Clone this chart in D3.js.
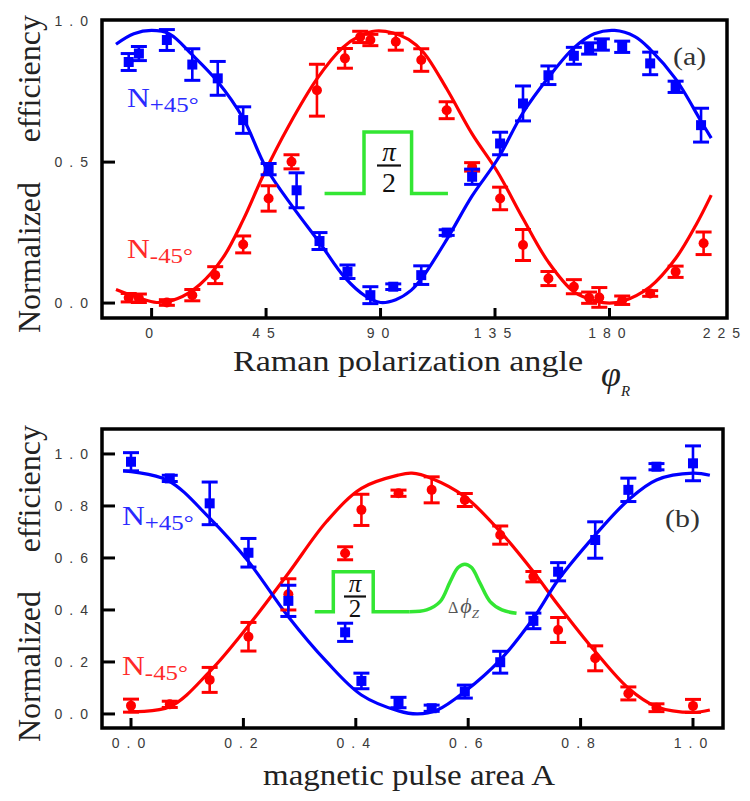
<!DOCTYPE html>
<html>
<head>
<meta charset="utf-8">
<script src="https://cdn.jsdelivr.net/npm/d3@7"></script>
<style>
  body { margin: 0; background: #fff; }
  svg { display: block; }
</style>
</head>
<body>
<svg width="750" height="801"></svg>
<script>
// ---- panel (a): efficiency vs Raman polarization angle ----
const angleBlueA = [-9, -5, 6, 16, 26, 36, 46, 57, 66, 77, 86, 95, 106, 116, 126, 137, 146, 156, 166, 172, 177, 185, 196, 206, 216];
const effBlueA   = [0.855, 0.885, 0.933, 0.846, 0.797, 0.649, 0.475, 0.40, 0.22, 0.111, 0.028, 0.058, 0.099, 0.25, 0.448, 0.566, 0.708, 0.808, 0.877, 0.903, 0.917, 0.909, 0.85, 0.767, 0.631];
const errBlueA   = [0.03, 0.025, 0.037, 0.056, 0.06, 0.047, 0.02, 0.062, 0.03, 0.024, 0.03, 0.01, 0.033, 0.01, 0.027, 0.04, 0.062, 0.033, 0.03, 0.02, 0.02, 0.02, 0.04, 0.02, 0.06];

const angleRedA = [-9, -5, 6, 16, 25, 36, 46, 55, 65, 76, 82, 86, 96, 106, 116, 126, 137, 146, 156, 166, 172, 176, 185, 196, 206, 217];
const effRedA   = [0.019, 0.017, 0.002, 0.028, 0.099, 0.208, 0.371, 0.501, 0.755, 0.868, 0.944, 0.933, 0.927, 0.862, 0.684, 0.483, 0.371, 0.206, 0.087, 0.058, 0.019, 0.02, 0.01, 0.034, 0.111, 0.212];
const errRedA   = [0.015, 0.015, 0.01, 0.02, 0.03, 0.03, 0.045, 0.025, 0.092, 0.035, 0.02, 0.02, 0.03, 0.04, 0.03, 0.015, 0.04, 0.055, 0.025, 0.025, 0.02, 0.035, 0.015, 0.01, 0.02, 0.04];

// fitted curves
const fitAngleBlueA = [-14, -7, 0, 7, 16, 26, 36, 45, 56, 66, 76, 84, 90, 96, 102, 106, 116, 126, 136, 146, 156, 166, 174, 182, 190, 196, 206, 216, 220];
const fitBlueA      = [0.918, 0.955, 0.967, 0.955, 0.88, 0.785, 0.655, 0.48, 0.335, 0.215, 0.09, 0.025, 0.002, 0.012, 0.045, 0.085, 0.225, 0.38, 0.51, 0.675, 0.8, 0.905, 0.955, 0.967, 0.945, 0.9, 0.795, 0.645, 0.585];
const fitAngleRedA  = [-14, -5, 2, 10, 19, 28, 36, 44, 54, 65, 75, 82, 88, 95, 101, 107, 116, 126, 136, 146, 156, 166, 175, 180, 185, 196, 206, 214, 220];
const fitRedA       = [0.048, 0.018, 0.002, 0.015, 0.066, 0.16, 0.295, 0.455, 0.63, 0.795, 0.905, 0.948, 0.965, 0.958, 0.935, 0.888, 0.76, 0.6, 0.465, 0.3, 0.145, 0.04, 0.006, 0.0, 0.006, 0.058, 0.158, 0.277, 0.383];

const xTicksA = [0, 45, 90, 135, 180, 225];
const xTickLabelsA = ["0", "45", "90", "135", "180", "225"];
const yTicksA = [0, 0.5, 1.0];
const yTickLabelsA = ["0.0", "0.5", "1.0"];

// pi/2 pulse sketch in (a), data coordinates
const pulseAngleA = [68, 83.5, 83.5, 102.2, 102.2, 116.5];
const pulseLevelA = [0.389, 0.389, 0.607, 0.607, 0.389, 0.389];

// ---- panel (b): efficiency vs magnetic pulse area ----
const areaB    = [0, 0.069, 0.14, 0.209, 0.28, 0.381, 0.41, 0.476, 0.535, 0.594, 0.657, 0.716, 0.76, 0.826, 0.885, 0.935, 1.0];
const effBlueB = [0.970, 0.906, 0.81, 0.62, 0.435, 0.314, 0.127, 0.044, 0.022, 0.086, 0.199, 0.358, 0.547, 0.669, 0.862, 0.951, 0.964];
const errBlueB = [0.035, 0.012, 0.082, 0.055, 0.06, 0.035, 0.03, 0.02, 0.012, 0.025, 0.042, 0.03, 0.035, 0.07, 0.045, 0.012, 0.067];
const effRedB  = [0.032, 0.037, 0.131, 0.297, 0.46, 0.618, 0.785, 0.849, 0.862, 0.823, 0.688, 0.528, 0.323, 0.214, 0.079, 0.024, 0.031];
const errRedB  = [0.025, 0.012, 0.048, 0.055, 0.06, 0.025, 0.06, 0.012, 0.05, 0.025, 0.035, 0.02, 0.048, 0.048, 0.025, 0.015, 0.025];

const fitAreaBlueB = [-0.014, 0.064, 0.14, 0.209, 0.28, 0.348, 0.41, 0.476, 0.51, 0.545, 0.594, 0.657, 0.716, 0.76, 0.826, 0.885, 0.935, 1.0, 1.03];
const fitBlueB     = [0.935, 0.9, 0.753, 0.586, 0.374, 0.201, 0.073, 0.012, 0.0, 0.015, 0.086, 0.208, 0.368, 0.515, 0.688, 0.823, 0.9, 0.926, 0.918];
const fitAreaRedB  = [-0.005, 0.069, 0.14, 0.21, 0.28, 0.348, 0.41, 0.476, 0.5, 0.535, 0.594, 0.657, 0.716, 0.76, 0.826, 0.885, 0.935, 1.0, 1.03];
const fitRedB      = [0.009, 0.028, 0.163, 0.342, 0.541, 0.74, 0.868, 0.919, 0.926, 0.906, 0.836, 0.701, 0.547, 0.419, 0.24, 0.099, 0.028, 0.006, 0.015];

const xTicksB = [0, 0.2, 0.4, 0.6, 0.8, 1.0];
const xTickLabelsB = ["0.0", "0.2", "0.4", "0.6", "0.8", "1.0"];
const yTicksB = [0, 0.2, 0.4, 0.6, 0.8, 1.0];
const yTickLabelsB = ["0.0", "0.2", "0.4", "0.6", "0.8", "1.0"];

// pi/2 step + Zeeman phase pulse sketch in (b), data coordinates
const stepAreaB  = [0.327, 0.36, 0.36, 0.431, 0.431, 0.496];
const stepLevelB = [0.393, 0.393, 0.547, 0.547, 0.393, 0.393];
const bumpAreaB  = [0.496, 0.526, 0.55, 0.568, 0.582, 0.594, 0.606, 0.621, 0.639, 0.66, 0.686];
const bumpLevelB = [0.393, 0.40, 0.432, 0.509, 0.563, 0.576, 0.563, 0.503, 0.432, 0.40, 0.387];

const BLUE = "#0000ff", RED = "#ff0000", GREEN = "#33e633";
const SERIF = "'Liberation Serif', 'Times New Roman', serif";
const SANS = "'Liberation Sans', Arial, sans-serif";

const svg = d3.select("svg");

const drawPanel = (o) => {
  const g = svg.append("g");
  const x = d3.scaleLinear().domain(o.xDomain).range([o.left, o.right]);
  const y = d3.scaleLinear().domain(o.yDomain).range([o.bottom, o.top]);
  const smooth = d3.line().x(d => x(d[0])).y(d => y(d[1])).curve(d3.curveCatmullRom.alpha(0.5));
  const straight = d3.line().x(d => x(d[0])).y(d => y(d[1]));

  // fits
  g.append("path").datum(d3.zip(o.fitRedX, o.fitRedY)).attr("d", smooth)
    .attr("fill", "none").attr("stroke", RED).attr("stroke-width", 3.2);
  g.append("path").datum(d3.zip(o.fitBlueX, o.fitBlueY)).attr("d", smooth)
    .attr("fill", "none").attr("stroke", BLUE).attr("stroke-width", 3.2);

  // inset pulses
  o.pulses.forEach(p => {
    g.append("path").datum(d3.zip(p.x, p.y)).attr("d", p.curved ? smooth : straight)
      .attr("fill", "none").attr("stroke", GREEN).attr("stroke-width", 3.5)
      .attr("stroke-linejoin", "miter");
  });

  // error bars + markers
  const series = [
    { x: o.redX, y: o.redY, e: o.redE, color: RED, shape: "circle" },
    { x: o.blueX, y: o.blueY, e: o.blueE, color: BLUE, shape: "square" }
  ];
  series.forEach(s => {
    const pts = s.x.map((v, i) => ({ x: v, y: s.y[i], e: s.e[i] }));
    const eg = g.append("g").attr("stroke", s.color).attr("stroke-width", 2.6);
    eg.selectAll(".bar").data(pts).enter().append("line")
      .attr("x1", d => x(d.x)).attr("x2", d => x(d.x))
      .attr("y1", d => y(d.y - d.e)).attr("y2", d => y(d.y + d.e));
    eg.selectAll(".capT").data(pts).enter().append("line")
      .attr("x1", d => x(d.x) - 8).attr("x2", d => x(d.x) + 8)
      .attr("y1", d => y(d.y + d.e)).attr("y2", d => y(d.y + d.e)).attr("stroke-width", 3);
    eg.selectAll(".capB").data(pts).enter().append("line")
      .attr("x1", d => x(d.x) - 8).attr("x2", d => x(d.x) + 8)
      .attr("y1", d => y(d.y - d.e)).attr("y2", d => y(d.y - d.e)).attr("stroke-width", 3);
    if (s.shape === "circle") {
      g.selectAll(null).data(pts).enter().append("circle")
        .attr("cx", d => x(d.x)).attr("cy", d => y(d.y)).attr("r", 5)
        .attr("fill", s.color);
    } else {
      g.selectAll(null).data(pts).enter().append("rect")
        .attr("x", d => x(d.x) - 5).attr("y", d => y(d.y) - 5)
        .attr("width", 10).attr("height", 10).attr("fill", s.color);
    }
  });

  // frame
  g.append("rect").attr("x", o.left).attr("y", o.top)
    .attr("width", o.right - o.left).attr("height", o.bottom - o.top)
    .attr("fill", "none").attr("stroke", "#000").attr("stroke-width", 3.5);

  // ticks (inward)
  g.selectAll(null).data(o.xTicks.filter(t => x(t) < o.right - 4)).enter().append("line")
    .attr("x1", d => x(d)).attr("x2", d => x(d))
    .attr("y1", o.bottom).attr("y2", o.bottom - 10)
    .attr("stroke", "#000").attr("stroke-width", 3);
  g.selectAll(null).data(o.yTicks.filter(t => y(t) > o.top + 4)).enter().append("line")
    .attr("x1", o.left).attr("x2", o.left + 13)
    .attr("y1", d => y(d)).attr("y2", d => y(d))
    .attr("stroke", "#000").attr("stroke-width", 3);

  // tick labels
  g.selectAll(null).data(o.xTicks).enter().append("text")
    .attr("x", d => x(d) + 1).attr("y", o.xLabelY)
    .attr("text-anchor", "middle")
    .style("font-family", SANS).style("font-size", "14px")
    .style("letter-spacing", "7px").attr("fill", "#3a3a3a")
    .text((d, i) => o.xTickLabels[i]);
  g.selectAll(null).data(o.yTicks).enter().append("text")
    .attr("x", 95).attr("y", d => y(d) + 5)
    .attr("text-anchor", "end")
    .style("font-family", SANS).style("font-size", "14px")
    .style("letter-spacing", "7px").attr("fill", "#3a3a3a")
    .text((d, i) => o.yTickLabels[i]);

  // y title
  const yt = (txt, yy, anchor) => g.append("text")
    .attr("transform", `translate(40,${yy}) rotate(-90)`)
    .attr("text-anchor", anchor)
    .style("font-family", SERIF).style("font-size", "32px").attr("fill", "#222")
    .text(txt);
  yt("Normalized", o.yTitleBottom, "start");
  yt("efficiency", o.yTitleTop, "end");

  // series labels
  const nLabel = (sign, color, lx, ly) => {
    const t = g.append("text")
      .attr("transform", `translate(${lx},${ly}) scale(1.13,1)`)
      .style("font-family", SERIF).attr("fill", color);
    t.append("tspan").style("font-size", "28px").text("N");
    t.append("tspan").attr("dy", 5).style("font-size", "22px").text(sign + "45°");
  };
  nLabel("+", "#2a2aff", o.nPlus[0], o.nPlus[1]);
  nLabel("-", "#ff2a2a", o.nMinus[0], o.nMinus[1]);

  // panel tag
  g.append("text").attr("transform", `translate(${o.tag[0]},${o.tag[1]}) scale(1.15,1)`)
    .style("font-family", SERIF).style("font-size", "26px").attr("fill", "#333")
    .text(o.tagText);

  return { g, x, y };
};

// ---- panel (a) ----
const A = drawPanel({
  left: 102, right: 727, top: 20, bottom: 318,
  xDomain: [-19.5, 226.2], yDomain: [-0.053, 1.004],
  blueX: angleBlueA, blueY: effBlueA, blueE: errBlueA,
  redX: angleRedA, redY: effRedA, redE: errRedA,
  fitBlueX: fitAngleBlueA, fitBlueY: fitBlueA, fitRedX: fitAngleRedA, fitRedY: fitRedA,
  pulses: [{ x: pulseAngleA, y: pulseLevelA, curved: false }],
  xTicks: xTicksA, xTickLabels: xTickLabelsA, yTicks: yTicksA, yTickLabels: yTickLabelsA,
  xLabelY: 338, yTitleBottom: 333, yTitleTop: 15,
  nPlus: [127, 107], nMinus: [127, 258], tag: [673, 65], tagText: "(a)"
});

// pi/2 fraction (a)
const fracA = A.g.append("g").style("font-family", SERIF).attr("fill", "#111");
fracA.append("text").attr("x", 389).attr("y", 161).attr("text-anchor", "middle")
  .style("font-size", "27px").style("font-style", "italic").text("π");
fracA.append("line").attr("x1", 377).attr("x2", 401).attr("y1", 165.5).attr("y2", 165.5)
  .attr("stroke", "#111").attr("stroke-width", 2.2);
fracA.append("text").attr("x", 389).attr("y", 192).attr("text-anchor", "middle")
  .style("font-size", "28px").text("2");

// x title (a)
A.g.append("text").attr("x", 233).attr("y", 371)
  .attr("textLength", 350).attr("lengthAdjust", "spacingAndGlyphs")
  .style("font-family", SERIF).style("font-size", "30px").attr("fill", "#222")
  .text("Raman polarization angle");
const phiR = A.g.append("text").attr("x", 601).attr("y", 386)
  .style("font-family", SERIF).style("font-style", "italic").attr("fill", "#222");
phiR.append("tspan").style("font-size", "36px").text("φ");
phiR.append("tspan").attr("dy", 10).style("font-size", "15px").text("R");

// ---- panel (b) ----
const B = drawPanel({
  left: 102, right: 723, top: 429, bottom: 728,
  xDomain: [-0.0516, 1.0534], yDomain: [-0.054, 1.096],
  blueX: areaB, blueY: effBlueB, blueE: errBlueB,
  redX: areaB, redY: effRedB, redE: errRedB,
  fitBlueX: fitAreaBlueB, fitBlueY: fitBlueB, fitRedX: fitAreaRedB, fitRedY: fitRedB,
  pulses: [{ x: stepAreaB, y: stepLevelB, curved: false }, { x: bumpAreaB, y: bumpLevelB, curved: true }],
  xTicks: xTicksB, xTickLabels: xTickLabelsB, yTicks: yTicksB, yTickLabels: yTickLabelsB,
  xLabelY: 748, yTitleBottom: 742, yTitleTop: 425,
  nPlus: [122, 525], nMinus: [122, 675], tag: [665, 527], tagText: "(b)"
});

const fracB = B.g.append("g").style("font-family", SERIF).attr("fill", "#111");
fracB.append("text").attr("x", 355).attr("y", 592).attr("text-anchor", "middle")
  .style("font-size", "25px").style("font-style", "italic").text("π");
fracB.append("line").attr("x1", 344).attr("x2", 366).attr("y1", 596.5).attr("y2", 596.5)
  .attr("stroke", "#111").attr("stroke-width", 2.2);
fracB.append("text").attr("x", 355).attr("y", 617).attr("text-anchor", "middle")
  .style("font-size", "25px").text("2");

const dphi = B.g.append("text").attr("x", 448).attr("y", 613)
  .style("font-family", SERIF).attr("fill", "#555");
dphi.append("tspan").style("font-size", "16px").text("Δ");
dphi.append("tspan").attr("dx", 2).style("font-size", "22px").style("font-style", "italic").text("ϕ");
dphi.append("tspan").attr("dy", 5).style("font-size", "13px").style("font-style", "italic").text("Z");

B.g.append("text").attr("x", 263).attr("y", 785)
  .attr("textLength", 292).attr("lengthAdjust", "spacingAndGlyphs")
  .style("font-family", SERIF).style("font-size", "30px").attr("fill", "#222")
  .text("magnetic pulse area A");
</script>
</body>
</html>
